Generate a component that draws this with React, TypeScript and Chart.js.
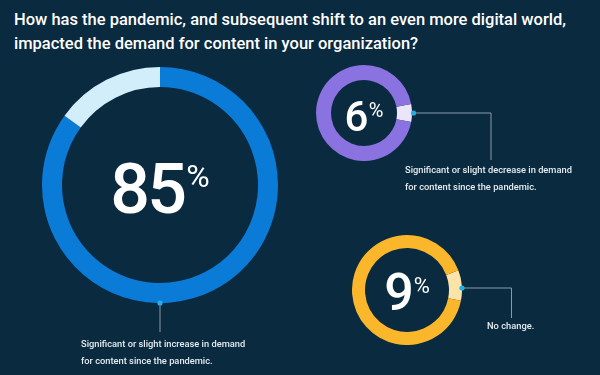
import React, { useEffect, useRef } from "react";
import { Chart, registerables } from "chart.js";

Chart.register(...registerables);

const titleLines = [
  "How has the pandemic, and subsequent shift to an even more digital world,",
  "impacted the demand for content in your organization?",
];
const categories = ["Increase", "Decrease", "No change"];
const values = [85, 6, 9];
const labelLines = [
  ["Significant or slight increase in demand", "for content since the pandemic."],
  ["Significant or slight decrease in demand", "for content since the pandemic."],
  ["No change."],
];
const valueColors = ["#0a7bd7", "#ebe5fa", "#fde3a8"];
const restColors = ["#d3eefb", "#8a72e0", "#fbb72b"];

const BG = "#0a2a40";

type RingProps = {
  value: number;
  cx: number;
  cy: number;
  r: number;
  inner: number;
  rotation: number;
  color: string;
  rest: string;
  label: string;
};

function Ring({ value, cx, cy, r, inner, rotation, color, rest, label }: RingProps) {
  const ref = useRef<HTMLCanvasElement>(null);
  useEffect(() => {
    if (!ref.current) return;
    const chart = new Chart(ref.current, {
      type: "doughnut",
      data: {
        labels: [label, "Other"],
        datasets: [
          {
            data: [value, 100 - value],
            backgroundColor: [color, rest],
            borderWidth: 0,
            hoverOffset: 0,
            offset: 0,
          },
        ],
      },
      options: {
        responsive: false,
        maintainAspectRatio: false,
        animation: false,
        rotation,
        radius: r,
        cutout: inner,
        layout: { padding: 0 },
        plugins: { legend: { display: false }, tooltip: { enabled: false } },
        events: [],
      },
    });
    return () => chart.destroy();
  }, [value, r, inner, rotation, color, rest, label]);
  return (
    <canvas
      ref={ref}
      width={2 * r}
      height={2 * r}
      style={{ position: "absolute", left: cx - r, top: cy - r, width: 2 * r, height: 2 * r }}
    />
  );
}

function BigNum({ cx, cy, num, size, pct, pctSize, dx, pctDy }: any) {
  return (
    <div
      style={{
        position: "absolute",
        left: cx - 100 + dx,
        top: cy - size / 2,
        width: 200,
        height: size,
        display: "flex",
        justifyContent: "center",
        alignItems: "flex-start",
        color: "#ffffff",
        fontFamily: "Roboto, sans-serif",
        lineHeight: `${size}px`,
      }}
    >
      <span style={{ fontSize: size, fontWeight: 500, letterSpacing: -size * 0.04 }}>{num}</span>
      <span style={{ fontSize: pctSize, lineHeight: `${pctSize}px`, marginTop: pctDy, marginLeft: 2 }}>{pct}</span>
    </div>
  );
}

export default function App() {
  const labelStyle: React.CSSProperties = {
    position: "absolute",
    color: "#e6ecf0",
    fontFamily: "Roboto, sans-serif",
    fontSize: 9.3,
    fontWeight: 500,
    lineHeight: "16.5px",
    whiteSpace: "nowrap",
  };
  return (
    <div
      style={{
        position: "absolute",
        left: 0,
        top: 0,
        width: 600,
        height: 375,
        background: BG,
        overflow: "hidden",
      }}
    >
      <div
        style={{
          position: "absolute",
          left: 14,
          top: 8,
          color: "#ffffff",
          fontFamily: "Roboto, sans-serif",
          fontSize: 16.5,
          fontWeight: 500,
          lineHeight: "24px",
          whiteSpace: "nowrap",
        }}
      >
        {titleLines.map((t, i) => (
          <div key={i}>{t}</div>
        ))}
      </div>

      <Ring value={values[0]} cx={160} cy={185} r={118} inner={98} rotation={0} color={valueColors[0]} rest={restColors[0]} label={categories[0]} />
      <Ring value={values[1]} cx={364} cy={113} r={48} inner={33} rotation={79.2} color={valueColors[1]} rest={restColors[1]} label={categories[1]} />
      <Ring value={values[2]} cx={407} cy={290} r={55} inner={42} rotation={69} color={valueColors[2]} rest={restColors[2]} label={categories[2]} />

      <svg width={600} height={375} style={{ position: "absolute", left: 0, top: 0 }}>
        <polyline points="160,303 160,332" fill="none" stroke="#8a9aa8" strokeWidth={1} />
        <polyline points="413,113 491,113 491,160" fill="none" stroke="#8a9aa8" strokeWidth={1} />
        <polyline points="462,288 511.5,288 511.5,318" fill="none" stroke="#8a9aa8" strokeWidth={1} />
        <circle cx={160} cy={303} r={2.6} fill="#1fb0ea" />
        <circle cx={413.5} cy={113} r={2.6} fill="#1fb0ea" />
        <circle cx={462} cy={288} r={2.6} fill="#1fb0ea" />
      </svg>

      <BigNum cx={160} cy={189} num={`${values[0]}`} size={70} pct="%" pctSize={32} dx={0} pctDy={6} />
      <BigNum cx={364} cy={117} num={`${values[1]}`} size={42} pct="%" pctSize={20} dx={0} pctDy={4} />
      <BigNum cx={407} cy={293} num={`${values[2]}`} size={52} pct="%" pctSize={22} dx={0} pctDy={8} />

      <div style={{ ...labelStyle, left: 81, top: 336 }}>
        {labelLines[0].map((t, i) => (
          <div key={i}>{t}</div>
        ))}
      </div>
      <div style={{ ...labelStyle, left: 405, top: 162 }}>
        {labelLines[1].map((t, i) => (
          <div key={i}>{t}</div>
        ))}
      </div>
      <div style={{ ...labelStyle, left: 487, top: 318 }}>
        {labelLines[2].map((t, i) => (
          <div key={i}>{t}</div>
        ))}
      </div>
    </div>
  );
}
